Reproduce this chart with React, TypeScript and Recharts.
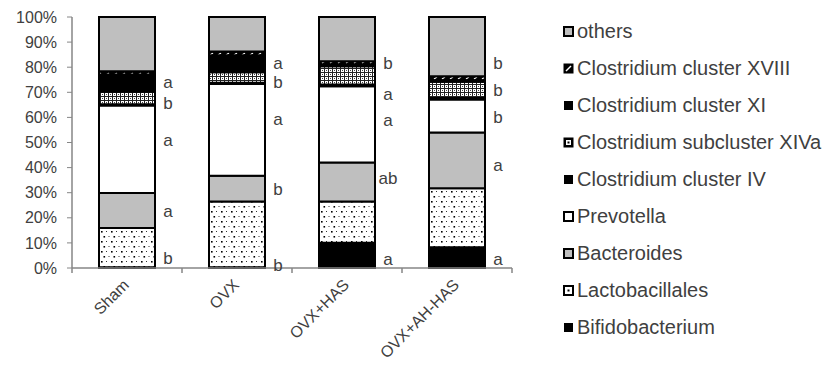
import React from 'react';
import { ComposedChart, Bar, XAxis, YAxis, Scatter } from 'recharts';

const categories = ['Sham', 'OVX', 'OVX+HAS', 'OVX+AH-HAS'];
const bifidobacterium = [0.3, 0.3, 10.1, 8.3];
const lactobacillales = [15.6, 26.2, 16.4, 23.5];
const bacteroides = [14.0, 10.3, 15.5, 22.2];
const prevotella = [34.8, 36.5, 30.4, 13.1];
const clostridiumIV = [0.5, 0.5, 0.7, 0.6];
const clostridiumXIVa = [5.1, 4.2, 7.3, 6.5];
const clostridiumXI = [6.8, 6.8, 0.6, 0.6];
const clostridiumXVIII = [1.3, 1.5, 1.4, 1.6];
const others = [21.6, 13.7, 17.6, 23.6];

const yTicks = [0, 10, 20, 30, 40, 50, 60, 70, 80, 90, 100];

// significance letters: group, level (%), letter
const letterGroups = ['Sham', 'Sham', 'Sham', 'Sham', 'Sham', 'OVX', 'OVX', 'OVX', 'OVX', 'OVX', 'OVX+HAS', 'OVX+HAS', 'OVX+HAS', 'OVX+HAS', 'OVX+HAS', 'OVX+AH-HAS', 'OVX+AH-HAS', 'OVX+AH-HAS', 'OVX+AH-HAS', 'OVX+AH-HAS'];
const letterLevels = [73.9, 65.9, 51.1, 22.8, 4.0, 81.8, 73.9, 59.5, 31.5, 1.2, 81.8, 69.5, 59.1, 35.9, 3.6, 81.8, 70.7, 60.3, 41.1, 3.6];
const letterTexts = ['a', 'b', 'a', 'a', 'b', 'a', 'b', 'a', 'b', 'b', 'b', 'a', 'a', 'ab', 'a', 'b', 'b', 'b', 'a', 'a'];

const seriesKeys = ['bifido', 'lacto', 'bacteroides', 'prevotella', 'clIV', 'clXIVa', 'clXI', 'clXVIII', 'others'];
const seriesNames = ['Bifidobacterium', 'Lactobacillales', 'Bacteroides', 'Prevotella', 'Clostridium cluster IV', 'Clostridium subcluster XIVa', 'Clostridium cluster XI', 'Clostridium cluster XVIII', 'others'];
const seriesValues = [bifidobacterium, lactobacillales, bacteroides, prevotella, clostridiumIV, clostridiumXIVa, clostridiumXI, clostridiumXVIII, others];
const seriesFills = ['#000000', 'url(#dots)', '#BFBFBF', '#FFFFFF', '#000000', 'url(#mesh)', '#000000', 'url(#dash)', '#BFBFBF'];

const data = categories.map((name, i) => {
  const row: any = { name };
  seriesKeys.forEach((k, j) => { row[k] = seriesValues[j][i]; });
  return row;
});

const letters = letterGroups.map((name, i) => ({ name, level: letterLevels[i], text: letterTexts[i] }));

const FONT = '"Liberation Sans", Arial, sans-serif';
const TEXT = '#404040';
const AXIS = '#868686';

const CatTick = (props: any) => {
  const { x, y, payload, index, width, visibleTicksCount } = props;
  const count = visibleTicksCount || categories.length;
  const off = width ? width / count / 2 : 55;
  return (
    <g>
      <line x1={x - off} x2={x - off} y1={y - 8} y2={y - 3} stroke={AXIS} strokeWidth={1.5} />
      {index === count - 1 && (
        <line x1={x + off} x2={x + off} y1={y - 8} y2={y - 3} stroke={AXIS} strokeWidth={1.5} />
      )}
      <text
        x={x + 3}
        y={y + 10}
        transform={`rotate(-45, ${x + 3}, ${y + 10})`}
        textAnchor="end"
        fontSize={16}
        fontFamily={FONT}
        fill={TEXT}
      >
        {payload.value}
      </text>
    </g>
  );
};

const LetterShape = (props: any) => {
  const { cx, cy, payload } = props;
  return (
    <text x={cx + 41} y={cy} dy="0.35em" textAnchor="middle" fontSize={17} fontFamily={FONT} fill={TEXT}>
      {payload.text}
    </text>
  );
};

const Swatch = ({ idx }: { idx: number }) => {
  const key = seriesKeys[idx];
  const fill = seriesFills[idx];
  return (
    <svg width={11} height={11} style={{ display: 'block' }}>
      {key === 'clXVIII' ? (
        <g>
          <rect x={0.5} y={0.5} width={10} height={10} fill="#000" />
          <line x1={3} y1={8} x2={8} y2={3} stroke="#fff" strokeWidth={1.5} />
        </g>
      ) : key === 'clXIVa' ? (
        <g>
          <rect x={0.5} y={0.5} width={10} height={10} fill="#000" />
          <rect x={3} y={3} width={5} height={5} fill="#fff" />
          <rect x={4.5} y={4.5} width={2} height={2} fill="#000" />
        </g>
      ) : key === 'lacto' ? (
        <g>
          <rect x={1} y={1} width={9} height={9} fill="#fff" stroke="#000" strokeWidth={2} />
          <rect x={4.5} y={4.5} width={2} height={2} fill="#000" />
        </g>
      ) : fill === '#000000' ? (
        <rect x={1} y={1} width={9} height={9} fill="#000" />
      ) : (
        <rect x={1} y={1} width={9} height={9} fill={fill} stroke="#000" strokeWidth={2} />
      )}
    </svg>
  );
};

const Legend = () => {
  const order = [8, 7, 6, 5, 4, 3, 2, 1, 0];
  return (
    <div>
      {order.map((idx, i) => (
        <div
          key={idx}
          style={{
            position: 'absolute',
            left: 563,
            top: 31 + i * 37 - 12,
            height: 24,
            display: 'flex',
            alignItems: 'center',
            fontFamily: FONT,
            fontSize: 20,
            color: TEXT,
            whiteSpace: 'nowrap',
          }}
        >
          <Swatch idx={idx} />
          <span style={{ marginLeft: 3 }}>{seriesNames[idx]}</span>
        </div>
      ))}
    </div>
  );
};

export default function App() {
  return (
    <div style={{ position: 'absolute', left: 0, top: 0, width: 829, height: 369, background: '#fff' }}>
      <ComposedChart
        width={829}
        height={369}
        data={data}
        margin={{ top: 17, right: 317, bottom: 41, left: 12 }}
      >
        <defs>
          <pattern id="dots" width="10" height="10" patternUnits="userSpaceOnUse">
            <rect width="10" height="10" fill="#fff" />
            <rect x="1" y="1" width="1.6" height="1.6" fill="#000" />
            <rect x="6" y="1" width="1" height="1" fill="#333" />
            <rect x="3.5" y="6" width="1.6" height="1.6" fill="#000" />
            <rect x="8.5" y="6" width="1" height="1" fill="#333" />
          </pattern>
          <pattern id="mesh" width="4" height="4" patternUnits="userSpaceOnUse">
            <rect width="4" height="4" fill="#fff" />
            <rect x="0" y="0" width="1" height="4" fill="#222" />
            <rect x="0" y="0" width="4" height="1" fill="#222" />
            <rect x="2" y="2" width="1" height="1" fill="#444" />
          </pattern>
          <pattern id="dash" width="8" height="4" patternUnits="userSpaceOnUse">
            <rect width="8" height="4" fill="#000" />
            <line x1="2" y1="3" x2="5" y2="1" stroke="#fff" strokeWidth="1.2" />
          </pattern>
        </defs>
        <XAxis
          dataKey="name"
          type="category"
          allowDuplicatedCategory={false}
          height={60}
          axisLine={{ stroke: AXIS, strokeWidth: 1.5 }}
          tickLine={false}
          tick={<CatTick />}
          interval={0}
        />
        <YAxis
          type="number"
          domain={[0, 100]}
          ticks={yTicks}
          width={60}
          tickFormatter={(v: number) => `${v}%`}
          axisLine={{ stroke: AXIS, strokeWidth: 1.5 }}
          tickLine={{ stroke: AXIS }}
          tickSize={5}
          tickMargin={10}
          tick={{ fontSize: 16, fontFamily: FONT, fill: TEXT }}
          interval={0}
        />
        {seriesKeys.map((k, j) => (
          <Bar
            key={k}
            dataKey={k}
            name={seriesNames[j]}
            stackId="a"
            fill={seriesFills[j]}
            stroke="#000"
            strokeWidth={2}
            barSize={56}
            isAnimationActive={false}
          />
        ))}
        <Scatter
          data={letters}
          dataKey="level"
          shape={<LetterShape />}
          isAnimationActive={false}
        />
      </ComposedChart>
      <Legend />
    </div>
  );
}
